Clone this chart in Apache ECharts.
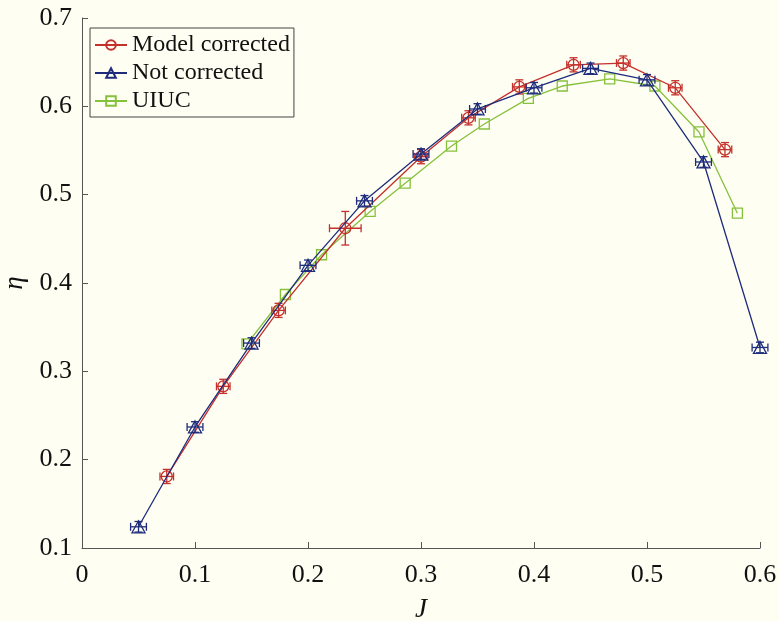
<!DOCTYPE html>
<html>
<head>
<meta charset="utf-8">
<script src="https://cdn.jsdelivr.net/npm/echarts@6/dist/echarts.min.js"></script>
<style>
html,body{margin:0;padding:0;background:#fefef3;}
#chart{width:779px;height:621px;}
</style>
</head>
<body>
<div id="chart"></div>
<script>
// Model corrected: J, eta, errJ, errEta
const modelJ   = [0.075, 0.125, 0.174, 0.233, 0.300, 0.342, 0.387, 0.435, 0.479, 0.525, 0.569];
const modelEta = [0.181, 0.283, 0.369, 0.462, 0.543, 0.587, 0.622, 0.647, 0.649, 0.621, 0.551];
const modelErrJ   = [0.006, 0.006, 0.006, 0.014, 0.006, 0.006, 0.006, 0.006, 0.006, 0.006, 0.006];
const modelErrEta = [0.008, 0.008, 0.008, 0.019, 0.008, 0.008, 0.008, 0.008, 0.008, 0.008, 0.008];
// Not corrected
const rawJ   = [0.05, 0.10, 0.15, 0.20, 0.25, 0.30, 0.35, 0.40, 0.45, 0.50, 0.55, 0.60];
const rawEta = [0.124, 0.237, 0.332, 0.420, 0.493, 0.546, 0.597, 0.621, 0.643, 0.630, 0.537, 0.327];
const rawErrJ   = [0.007, 0.007, 0.007, 0.007, 0.007, 0.007, 0.007, 0.007, 0.007, 0.007, 0.007, 0.007];
const rawErrEta = [0.006, 0.006, 0.006, 0.006, 0.006, 0.006, 0.006, 0.006, 0.006, 0.006, 0.006, 0.006];
// UIUC
const uiucJ   = [0.146, 0.180, 0.212, 0.255, 0.286, 0.327, 0.356, 0.395, 0.425, 0.467, 0.507, 0.546, 0.580];
const uiucEta = [0.331, 0.387, 0.432, 0.481, 0.513, 0.555, 0.580, 0.609, 0.623, 0.631, 0.623, 0.571, 0.479];

const xTicks = [0, 0.1, 0.2, 0.3, 0.4, 0.5, 0.6];
const yTicks = [0.1, 0.2, 0.3, 0.4, 0.5, 0.6, 0.7];
const seriesNames = ['Model corrected', 'Not corrected', 'UIUC'];

const RED = '#c4302b', BLUE = '#1e2c7c', GREEN = '#86c13c', AXIS = '#555555';
const FONT = '"Liberation Serif", "DejaVu Serif", serif';

const zip = (a, b) => a.map((v, i) => [v, b[i]]);
const zip4 = (a, b, c, d) => a.map((v, i) => [v, b[i], c[i], d[i]]);

function errRender(color) {
  return function (params, api) {
    const x = api.value(0), y = api.value(1), ex = api.value(2), ey = api.value(3);
    const l = api.coord([x - ex, y]), r = api.coord([x + ex, y]);
    const t = api.coord([x, y + ey]), b = api.coord([x, y - ey]);
    const cap = 4;
    const st = { stroke: color, lineWidth: 1.3 };
    const ln = (x1, y1, x2, y2) => ({ type: 'line', shape: { x1, y1, x2, y2 }, style: st });
    return {
      type: 'group',
      children: [
        ln(l[0], l[1], r[0], r[1]),
        ln(l[0], l[1] - cap, l[0], l[1] + cap),
        ln(r[0], r[1] - cap, r[0], r[1] + cap),
        ln(t[0], t[1], b[0], b[1]),
        ln(t[0] - cap, t[1], t[0] + cap, t[1]),
        ln(b[0] - cap, b[1], b[0] + cap, b[1])
      ]
    };
  };
}

const chart = echarts.init(document.getElementById('chart'));
chart.setOption({
  backgroundColor: '#fefef3',
  animation: false,
  grid: { left: 82, top: 18, right: 19, bottom: 73, containLabel: false, outerBoundsMode: 'none' },
  legend: {
    data: seriesNames,
    orient: 'vertical',
    left: 90, top: 28,
    itemWidth: 32, itemHeight: 12, itemGap: 2,
    padding: [4, 4, 3, 4],
    borderColor: '#444', borderWidth: 1,
    backgroundColor: '#fefef3',
    textStyle: { fontFamily: FONT, fontSize: 24, lineHeight: 26, color: '#111' }
  },
  xAxis: {
    type: 'value', min: 0, max: 0.6, interval: 0.1,
    name: 'J', nameLocation: 'middle', nameGap: 48,
    nameTextStyle: { fontFamily: FONT, fontSize: 27, fontStyle: 'italic', color: '#111' },
    axisLine: { show: true, lineStyle: { color: AXIS, width: 1 } },
    axisTick: { show: true, inside: true, length: 6, lineStyle: { color: AXIS } },
    splitLine: { show: false },
    axisLabel: {
      fontFamily: FONT, fontSize: 26, color: '#111', margin: 14,
      formatter: v => { const t = xTicks.find(k => Math.abs(k - v) < 1e-9); return t === undefined ? '' : String(t); }
    }
  },
  yAxis: {
    type: 'value', min: 0.1, max: 0.7, interval: 0.1,
    name: 'η', nameLocation: 'middle', nameGap: 44, nameRotate: 90,
    nameTextStyle: { fontFamily: FONT, fontSize: 27, fontStyle: 'italic', color: '#111' },
    axisLine: { show: true, lineStyle: { color: AXIS, width: 1 } },
    axisTick: { show: true, inside: true, length: 6, lineStyle: { color: AXIS } },
    splitLine: { show: false },
    axisLabel: {
      fontFamily: FONT, fontSize: 26, color: '#111', margin: 10,
      formatter: v => { const t = yTicks.find(k => Math.abs(k - v) < 1e-9); return t === undefined ? '' : t.toFixed(1); }
    }
  },
  series: [
    {
      name: seriesNames[0], type: 'line', data: zip(modelJ, modelEta),
      symbol: 'circle', symbolSize: 11, z: 3,
      lineStyle: { color: RED, width: 1.3 },
      itemStyle: { color: 'transparent', borderColor: RED, borderWidth: 1.3 }
    },
    {
      name: seriesNames[0] + ' err', type: 'custom', data: zip4(modelJ, modelEta, modelErrJ, modelErrEta),
      renderItem: errRender(RED), z: 3, encode: { x: 0, y: 1 }
    },
    {
      name: seriesNames[1], type: 'line', data: zip(rawJ, rawEta),
      symbol: 'triangle', symbolSize: [13, 12], z: 4,
      lineStyle: { color: BLUE, width: 1.3 },
      itemStyle: { color: 'transparent', borderColor: BLUE, borderWidth: 1.3 }
    },
    {
      name: seriesNames[1] + ' err', type: 'custom', data: zip4(rawJ, rawEta, rawErrJ, rawErrEta),
      renderItem: errRender(BLUE), z: 4, encode: { x: 0, y: 1 }
    },
    {
      name: seriesNames[2], type: 'line', data: zip(uiucJ, uiucEta),
      symbol: 'rect', symbolSize: 10, z: 2,
      lineStyle: { color: GREEN, width: 1.3 },
      itemStyle: { color: 'transparent', borderColor: GREEN, borderWidth: 1.3 }
    }
  ]
});
</script>
</body>
</html>
